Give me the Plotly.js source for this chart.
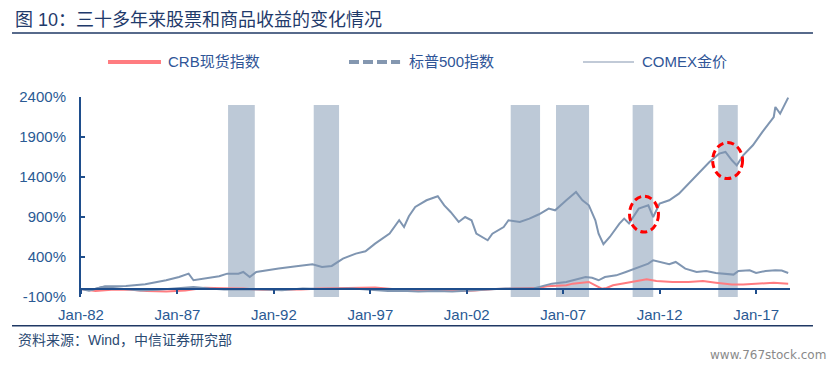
<!DOCTYPE html>
<html>
<head>
<meta charset="utf-8">
<script src="https://cdn.plot.ly/plotly-3.0.1.min.js"></script>
<style>
html,body{margin:0;padding:0;background:#fff;}
#chart{width:835px;height:367px;}
</style>
</head>
<body>
<div id="chart"></div>
<script>
// ---- data (cumulative return, %) ----
const spDates = ['1982-01','1982-08','1983-04','1984-05','1985-05','1986-06','1987-02','1987-08','1987-11','1988-07','1989-03','1989-08','1990-03','1990-06','1990-10','1991-02','1991-08','1992-04','1993-03','1994-01','1994-07','1995-01','1995-08','1996-04','1996-10','1997-04','1998-01','1998-07','1998-10','1999-01','1999-05','1999-12','2000-07','2000-11','2001-03','2001-08','2001-12','2002-04','2002-07','2002-11','2003-02','2003-05','2003-12','2004-03','2004-10','2005-04','2005-10','2006-04','2006-08','2007-03','2007-09','2008-01','2008-05','2008-09','2008-11','2009-02','2009-06','2009-12','2010-03','2010-06','2010-12','2011-06','2011-09','2012-01','2012-07','2013-01','2013-08','2014-02','2014-08','2015-02','2015-06','2015-10','2016-01','2016-05','2016-11','2017-05','2017-12','2018-01','2018-04','2018-09'];
const spValues = [0,-10,34,37,59,109,150,192,109,130,159,192,192,213,150,213,234,255,284,309,275,288,380,442,471,567,692,859,775,909,1025,1109,1159,1046,963,838,900,859,692,650,609,692,775,859,838,880,934,1005,984,1109,1212,1109,1046,859,692,559,650,817,880,820,1005,1046,900,1067,1109,1192,1338,1463,1588,1692,1713,1609,1546,1671,1796,1963,2150,2275,2192,2392];

const goldDates = ['1982-01','1982-06','1983-02','1983-09','1984-06','1985-02','1986-01','1987-01','1987-11','1988-09','1989-06','1990-06','1991-06','1992-06','1993-07','1994-06','1995-06','1996-02','1997-01','1997-12','1998-12','1999-07','2000-06','2001-04','2002-06','2003-06','2004-01','2005-06','2006-02','2006-06','2007-03','2007-11','2008-03','2008-07','2008-11','2009-03','2009-10','2010-04','2010-12','2011-06','2011-09','2012-01','2012-07','2012-11','2013-05','2013-12','2014-06','2014-12','2015-11','2016-02','2016-09','2017-01','2017-07','2018-01','2018-05','2018-09'];
const goldValues = [0,-20,25,10,-5,-20,-10,5,25,5,-5,-5,-5,-15,5,0,0,5,-10,-25,-25,-30,-25,-30,-15,-5,5,5,46,67,88,130,150,140,109,150,171,213,275,317,359,338,309,338,255,213,225,200,180,225,234,200,225,234,230,200];

const crbDates = ['1982-01','1982-10','1983-08','1984-06','1985-06','1986-06','1987-06','1988-06','1989-06','1990-06','1991-06','1992-06','1993-06','1994-06','1995-06','1996-06','1997-04','1998-06','1999-06','2000-06','2001-06','2002-06','2003-06','2004-06','2005-10','2006-03','2007-03','2007-07','2008-01','2008-05','2008-09','2009-01','2009-04','2009-08','2010-04','2011-01','2011-05','2011-11','2012-09','2013-07','2014-04','2014-12','2015-10','2016-05','2017-01','2017-12','2018-09'];
const crbValues = [0,-25,-10,-5,-25,-30,-20,15,10,5,-10,-10,-5,5,10,15,20,-5,-25,-20,-25,-20,0,5,15,35,46,67,75,88,46,4,13,46,75,109,121,100,88,88,100,79,55,55,67,79,67];

// shaded periods
const bandStart = ['1989-08-17','1994-01-25','2004-04-12','2006-08-18','2010-08-08','2015-01-15'];
const bandEnd   = ['1991-01-05','1995-05-20','2005-10-20','2008-05-05','2011-09-02','2016-01-20'];

// axis labels
const yTickVals = [-100,400,900,1400,1900,2400];
const yTickText = ['-100%','400%','900%','1400%','1900%','2400%'];

const seriesNames = ['CRB现货指数','标普500指数','COMEX金价'];

// ---- drawing ----
const axisBlue = '#1F4E8C';
const labelBlue = '#2A5A94';
const latin = "'Liberation Sans', Arial, 'Noto Sans CJK SC', sans-serif";

const traces = [
  {x: crbDates, y: crbValues, name: seriesNames[0], type:'scatter', mode:'lines',
   line:{color:'#FF7C80', width:2}, showlegend:false},
  {x: goldDates, y: goldValues, name: seriesNames[2], type:'scatter', mode:'lines',
   line:{color:'#8096B2', width:2}, showlegend:false},
  {x: spDates, y: spValues, name: seriesNames[1], type:'scatter', mode:'lines',
   line:{color:'#7F95B1', width:2}, showlegend:false}
];

const shapes = [];
for (let i = 0; i < bandStart.length; i++) {
  shapes.push({type:'rect', xref:'x', yref:'y', x0:bandStart[i], x1:bandEnd[i], y0:-100, y1:2300,
    fillcolor:'#BDC9D7', line:{width:0}, layer:'below'});
}
// red dashed ellipses
shapes.push({type:'circle', xref:'x', yref:'y', x0:'2010-06-10', x1:'2011-12-10', y0:712, y1:1159,
  line:{color:'#FF0000', width:3, dash:'7px,4px'}});
shapes.push({type:'circle', xref:'x', yref:'y', x0:'2014-10-01', x1:'2016-04-20', y0:1380, y1:1830,
  line:{color:'#FF0000', width:3, dash:'7px,4px'}});
// title / footer rules
shapes.push({type:'line', xref:'paper', yref:'paper', x0:-0.0973, x1:1.0324, y0:1.32, y1:1.32,
  line:{color:'#1F3864', width:1.5}});
shapes.push({type:'line', xref:'paper', yref:'paper', x0:-0.0973, x1:1.0324, y0:-0.1435, y1:-0.1435,
  line:{color:'#1F3864', width:1.5}});
// legend samples
shapes.push({type:'line', xref:'paper', yref:'paper', x0:0.0381, x1:0.1128, y0:1.175, y1:1.175,
  line:{color:'#FF7C80', width:4}});
shapes.push({type:'line', xref:'paper', yref:'paper', x0:0.378, x1:0.450, y0:1.175, y1:1.175,
  line:{color:'#8497B0', width:4, dash:'10px,4px'}});
shapes.push({type:'line', xref:'paper', yref:'paper', x0:0.708, x1:0.780, y0:1.175, y1:1.175,
  line:{color:'#ADB9CA', width:1.5}});

const legendFont = {family:latin, size:15, color:'#2F5597'};
const annotations = [
  {xref:'paper', yref:'paper', x:0.1199, y:1.175, xanchor:'left', yanchor:'middle', text:seriesNames[0], showarrow:false, font:legendFont},
  {xref:'paper', yref:'paper', x:0.4598, y:1.175, xanchor:'left', yanchor:'middle', text:seriesNames[1], showarrow:false, font:legendFont},
  {xref:'paper', yref:'paper', x:0.7884, y:1.175, xanchor:'left', yanchor:'middle', text:seriesNames[2], showarrow:false, font:legendFont},
  {xref:'paper', yref:'paper', x:-0.0917, y:-0.215, xanchor:'left', yanchor:'middle', text:'资料来源：Wind，中信证券研究部', showarrow:false,
   font:{family:latin, size:14, color:'#2B4A72'}},
  {xref:'paper', yref:'paper', x:1.0536, y:-0.29, xanchor:'right', yanchor:'middle', text:'www.767stock.com', showarrow:false,
   font:{family:"'DejaVu Sans', sans-serif", size:12, color:'#8A8A8A'}}
];

const layout = {
  width:835, height:367,
  margin:{l:81, r:45, t:97, b:70},
  paper_bgcolor:'#ffffff', plot_bgcolor:'#ffffff',
  showlegend:false,
  title:{text:'图 10：三十多年来股票和商品收益的变化情况', x:0.018, xanchor:'left', xref:'container',
    y:1-20/367, yanchor:'middle', yref:'container',
    font:{family:latin, size:18, color:'#1F3A6B'}},
  xaxis:{type:'date', range:['1982-01-01','2018-10-05'],
    tick0:'1982-01-01', dtick:'M60', tickformat:'%b-%y',
    anchor:'free', position:0.04,
    showline:true, linecolor:axisBlue, linewidth:2,
    ticks:'outside', ticklen:4, tickwidth:2, tickcolor:axisBlue,
    ticklabelstandoff:8,
    showgrid:false, zeroline:false,
    tickfont:{family:latin, size:15, color:labelBlue}},
  yaxis:{range:[-100,2400], tickvals:yTickVals, ticktext:yTickText,
    showline:true, linecolor:axisBlue, linewidth:2,
    ticks:'inside', ticklen:4, tickwidth:2, tickcolor:axisBlue,
    ticklabelstandoff:10,
    showgrid:false, zeroline:false,
    tickfont:{family:latin, size:15, color:labelBlue}},
  shapes:shapes,
  annotations:annotations
};

Plotly.newPlot('chart', traces, layout, {staticPlot:true, displayModeBar:false});
</script>
</body>
</html>
